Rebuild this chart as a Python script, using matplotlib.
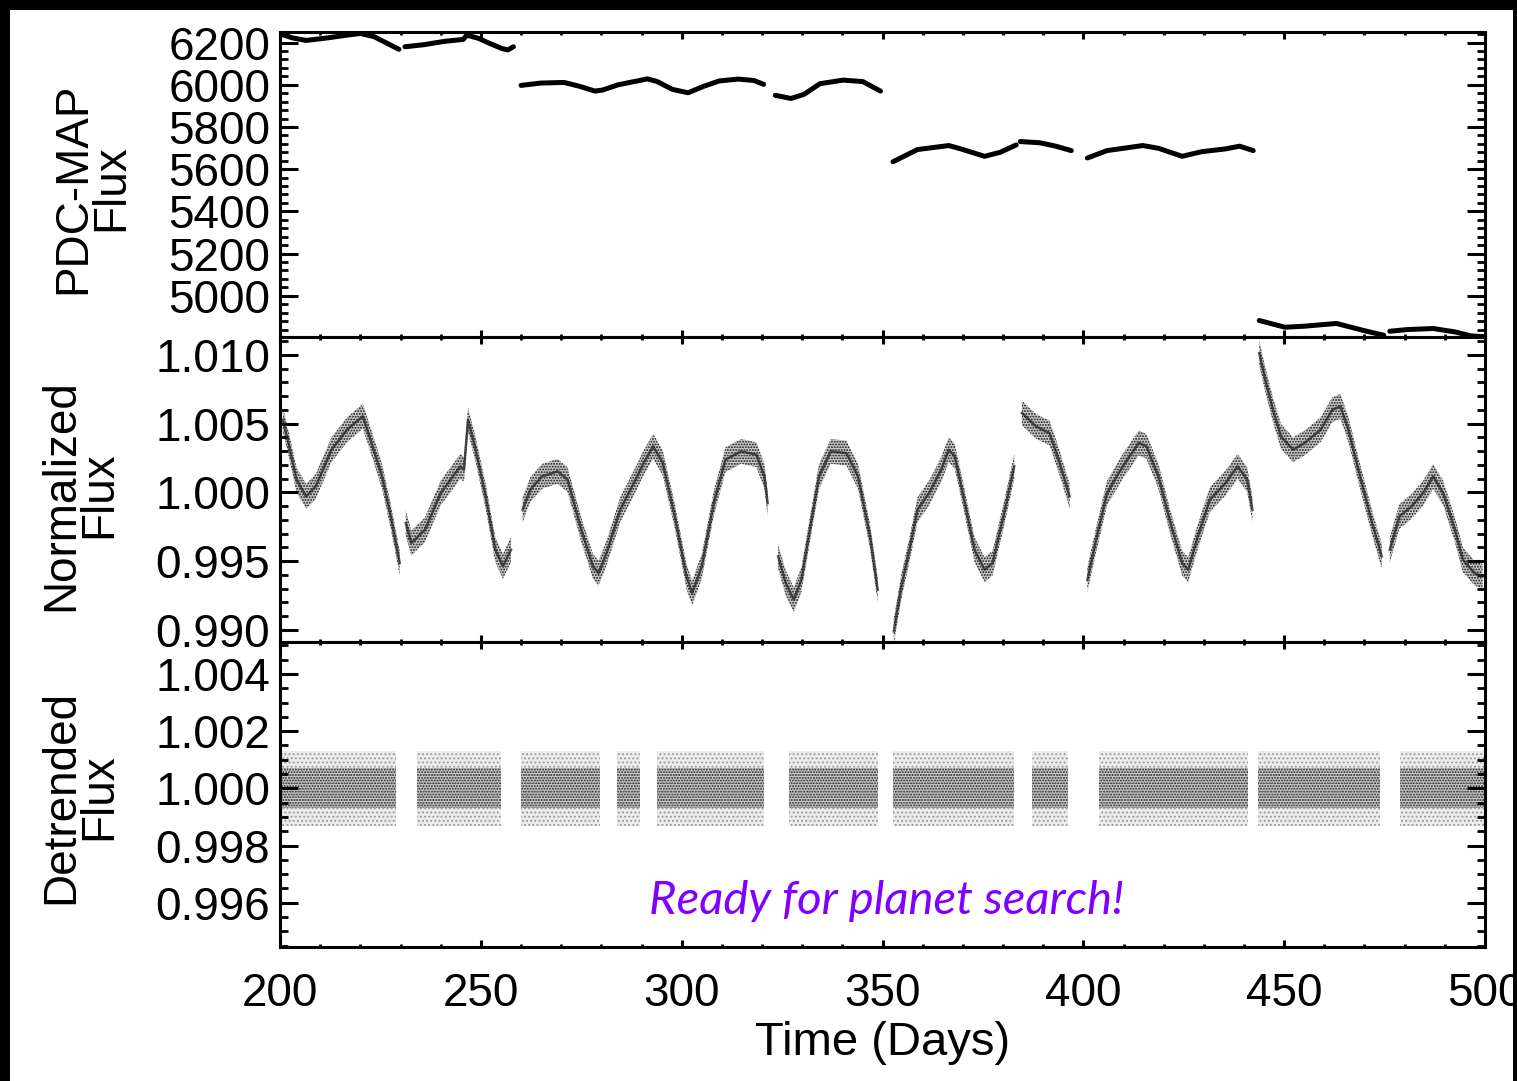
"""Kepler light curve: PDC-MAP flux, normalized flux and detrended flux vs time."""

import numpy as np
import matplotlib.pyplot as plt
from matplotlib.patches import Rectangle
from matplotlib.ticker import MultipleLocator, FormatStrFormatter

nan = np.nan

# PDC-MAP flux, trend (NaN = data gap)
pdc_time = [200.2, 203.1, 206.5, 211.8, 216.6, 220.0, 223.4, 226.3, 229.6, nan,
            231.1, 235.9, 240.7, 245.6, 246.5, 249.4, 252.3, 255.2, 256.7, 258.1, nan,
            260.0, 264.9, 270.7, 274.5, 278.4, 280.3, 284.2, 290.0, 291.4, 293.8,
            297.7, 301.6, 305.4, 309.3, 314.1, 318.0, 320.4, nan,
            323.3, 327.2, 330.5, 334.4, 340.2, 345.1, 349.5, nan,
            352.6, 358.7, 366.5, 369.5, 375.4, 379.3, 383.3, nan,
            384.3, 389.2, 393.1, 397.0, nan,
            401.0, 405.9, 414.8, 418.7, 424.6, 429.5, 435.4, 438.9, 442.3, nan,
            443.8, 450.2, 455.1, 463.0, 469.9, 474.8, nan,
            476.3, 480.7, 487.1, 492.5, 496.5, 500.0]
pdc_flux = [6240, 6222, 6210, 6222, 6235, 6243, 6228, 6200, 6168, nan,
            6180, 6190, 6205, 6215, 6235, 6220, 6195, 6172, 6165, 6180, nan,
            5997, 6008, 6011, 5993, 5970, 5975, 6000, 6022, 6028, 6016,
            5978, 5962, 5992, 6018, 6027, 6020, 6002, nan,
            5950, 5935, 5955, 6005, 6022, 6015, 5970, nan,
            5635, 5693, 5712, 5696, 5661, 5680, 5715, nan,
            5731, 5725, 5709, 5688, nan,
            5653, 5688, 5712, 5699, 5661, 5683, 5696, 5709, 5688, nan,
            4883, 4851, 4856, 4869, 4835, 4813, nan,
            4832, 4840, 4845, 4829, 4810, 4806]

# Normalized flux, centre of the scatter band (NaN = data gap)
norm_time = [200.7, 202.1, 204.1, 206.5, 208.9, 212.8, 216.7, 220.6, 222.0, 225.4, 227.4, 229.8, nan,
             231.3, 232.7, 236.1, 240.0, 244.9, 245.8, 246.8, 248.7, 251.2, 253.6, 255.5, 257.5, nan,
             260.4, 262.3, 265.2, 269.1, 271.6, 275.0, 277.9, 279.3, 281.3, 284.7, 288.5, 290.5,
             292.9, 295.3, 298.3, 301.2, 302.6, 305.0, 308.0, 310.9, 314.8, 318.6, 320.6, 321.4, nan,
             324.0, 325.9, 327.9, 329.8, 332.2, 334.2, 337.1, 341.0, 343.9, 346.9, 348.8, nan,
             352.8, 354.7, 356.7, 358.7, 361.6, 364.6, 366.5, 368.0, 370.5, 372.9, 375.4, 377.4,
             380.3, 382.8, nan,
             384.7, 388.2, 391.6, 394.1, 396.6, nan,
             401.0, 403.0, 405.9, 409.8, 413.8, 415.7, 418.7, 421.7, 424.6, 426.1, 428.5, 431.5,
             435.4, 438.4, 440.8, 442.1, nan,
             443.8, 445.3, 447.2, 449.2, 452.2, 455.1, 459.1, 462.0, 464.0, 466.0, 468.9, 471.9,
             474.3, nan,
             476.3, 478.7, 481.7, 484.6, 487.1, 489.6, 492.5, 494.5, 497.4, 499.4]
norm_flux = [1.00528, 1.00359, 1.00092, 0.99971, 1.00044, 1.00310, 1.00456, 1.00553, 1.00431,
             1.00116, 0.99850, 0.99486, nan,
             0.99777, 0.99632, 0.99729, 0.99995, 1.00189, 1.00165, 1.00528, 1.00310, 0.99971,
             0.99583, 0.99462, 0.99583, nan,
             0.99874, 1.00019, 1.00116, 1.00153, 1.00092, 0.99729, 0.99462, 0.99413, 0.99559,
             0.99874, 1.00092, 1.00213, 1.00335, 1.00213, 0.99825, 0.99389, 0.99268, 0.99462,
             0.99922, 1.00238, 1.00298, 1.00274, 1.00116, 0.99922, nan,
             0.99535, 0.99341, 0.99220, 0.99365, 0.99777, 1.00116, 1.00298, 1.00286, 1.00116,
             0.99680, 0.99292, nan,
             0.98989, 0.99316, 0.99583, 0.99874, 0.99995, 1.00165, 1.00310, 1.00262, 0.99922,
             0.99583, 0.99438, 0.99486, 0.99850, 1.00189, nan,
             1.00577, 1.00480, 1.00431, 1.00213, 0.99971, nan,
             0.99365, 0.99632, 0.99995, 1.00189, 1.00359, 1.00335, 1.00116, 0.99777, 0.99486,
             0.99438, 0.99680, 0.99947, 1.00068, 1.00189, 1.00092, 0.99874, nan,
             1.01013, 1.00819, 1.00601, 1.00407, 1.00310, 1.00359, 1.00456, 1.00601, 1.00625,
             1.00456, 1.00116, 0.99777, 0.99535, nan,
             0.99583, 0.99825, 0.99898, 0.99995, 1.00116, 0.99995, 0.99729, 0.99510, 0.99413,
             0.99389]
norm_scatter = 0.0009

# Detrended flux: observing segments, flat at 1.0 with core / outer scatter
det_start = [200.0, 234.1, 260.0, 284.0, 293.9, 326.6, 352.5, 387.3, 403.9, 443.4, 478.9]
det_end = [228.8, 255.0, 279.7, 289.7, 320.4, 348.8, 382.8, 396.1, 440.9, 473.8, 500.0]
det_level = 1.000
det_core = 0.0007
det_outer = 0.0013

plt.rcParams['font.family'] = ['Liberation Sans', 'DejaVu Sans']
plt.rcParams['hatch.linewidth'] = 0.9

fig = plt.figure(figsize=(15.17, 10.81), dpi=100, facecolor='white')
left, width, height = 0.1846, 0.7943, 0.2821
ax1 = fig.add_axes([left, 0.9704 - height, width, height])
ax2 = fig.add_axes([left, 0.9704 - 2 * height, width, height], sharex=ax1)
ax3 = fig.add_axes([left, 0.9704 - 3 * height, width, height], sharex=ax1)

ax1.plot(pdc_time, pdc_flux, color='black', lw=3.6, solid_capstyle='round')

nt = np.array(norm_time)
nf = np.array(norm_flux)
ax2.fill_between(nt, nf - norm_scatter, nf + norm_scatter, facecolor='#a0a0a0',
                 alpha=0.55, lw=0)
ax2.fill_between(nt, nf - norm_scatter, nf + norm_scatter, facecolor='none',
                 edgecolor='#111111', hatch='......', lw=0)
ax2.plot(nt, nf, color='#222222', lw=1.8, alpha=0.75)

for s, e in zip(det_start, det_end):
    ax3.fill_between([s, e], det_level - det_outer, det_level + det_outer,
                     facecolor='#ececec', lw=0)
    ax3.fill_between([s, e], det_level - det_outer, det_level + det_outer,
                     facecolor='none', edgecolor='#9a9a9a', hatch='....', lw=0)
    ax3.fill_between([s, e], det_level - det_core, det_level + det_core,
                     facecolor='#b0b0b0', alpha=0.55, lw=0)
    ax3.fill_between([s, e], det_level - det_core, det_level + det_core,
                     facecolor='none', edgecolor='#222222', hatch='......', lw=0)

ax3.text(351, 0.99605, 'Ready for planet search!', color='#7F00FF', fontsize=34,
         style='italic', family=['Lato', 'DejaVu Sans'], ha='center', va='center')

ax1.set_xlim(200, 500)
ax1.set_ylim(4805, 6250)
ax2.set_ylim(0.98913, 1.0113)
ax3.set_ylim(0.99446, 1.00512)

ax1.yaxis.set_major_locator(MultipleLocator(200))
ax1.yaxis.set_minor_locator(MultipleLocator(40))
ax2.yaxis.set_major_locator(MultipleLocator(0.005))
ax2.yaxis.set_minor_locator(MultipleLocator(0.001))
ax2.yaxis.set_major_formatter(FormatStrFormatter('%.3f'))
ax3.yaxis.set_major_locator(MultipleLocator(0.002))
ax3.yaxis.set_minor_locator(MultipleLocator(0.0005))
ax3.yaxis.set_major_formatter(FormatStrFormatter('%.3f'))
ax3.xaxis.set_major_locator(MultipleLocator(50))
ax3.xaxis.set_minor_locator(MultipleLocator(10))

for ax in (ax1, ax2, ax3):
    for sp in ax.spines.values():
        sp.set_linewidth(2.2)
    ax.tick_params(axis='both', which='both', direction='in', top=True, right=True,
                   labelsize=33)
    ax.tick_params(axis='y', which='major', length=13, width=2.2, pad=7)
    ax.tick_params(axis='y', which='minor', length=6, width=2.0)
    ax.tick_params(axis='x', which='major', length=5, width=2.2, pad=18)
    ax.tick_params(axis='x', which='minor', length=2.5, width=2.0)
ax1.tick_params(labelbottom=False)
ax2.tick_params(labelbottom=False)

ax3.set_xlabel('Time (Days)', fontsize=34, labelpad=4)

ylab = dict(rotation=90, ha='center', va='center', fontsize=33, linespacing=0.82,
            multialignment='center')
fig.text(92 / 1517, 1 - 188 / 1081, 'PDC-MAP\nFlux', **ylab)
fig.text(80 / 1517, 1 - 495 / 1081, 'Normalized\nFlux', **ylab)
fig.text(80 / 1517, 1 - 797 / 1081, 'Detrended\nFlux', **ylab)

# black frame of the slide
for x0, y0, w, h in [(0, 1 - 10 / 1081, 1, 10 / 1081), (0, 0, 10 / 1517, 1),
                     (1513 / 1517, 0, 4 / 1517, 1)]:
    fig.add_artist(Rectangle((x0, y0), w, h, transform=fig.transFigure,
                             facecolor='black', edgecolor='none', zorder=10))

fig.savefig('out.png', dpi=100, facecolor='white')
